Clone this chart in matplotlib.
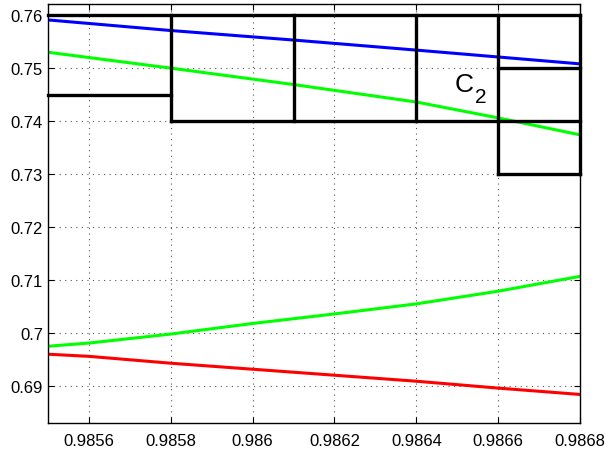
import matplotlib
matplotlib.use("Agg")
import matplotlib.pyplot as plt
import numpy as np

plt.rcParams['font.family'] = ['Liberation Sans', 'DejaVu Sans']

# curve samples
x_blue = [0.9855, 0.9858, 0.9861, 0.9864, 0.9868]
y_blue = [0.7591, 0.7571, 0.7553, 0.7534, 0.7508]

x_green_up = [0.9855, 0.9858, 0.9861, 0.9864, 0.9866, 0.9868]
y_green_up = [0.7530, 0.7500, 0.7469, 0.7436, 0.7406, 0.7374]

x_green_lo = [0.9855, 0.9856, 0.9858, 0.9860, 0.9862, 0.9864, 0.9866, 0.9868]
y_green_lo = [0.6975, 0.6981, 0.6998, 0.7018, 0.7036, 0.7055, 0.7079, 0.7107]

x_red = [0.9855, 0.9856, 0.9858, 0.9864, 0.9866, 0.9868]
y_red = [0.6960, 0.6956, 0.6943, 0.6909, 0.6896, 0.6884]

# black box edges: (x0, x1, y0, y1)
box_segments = [
    (0.9855, 0.9868, 0.760, 0.760),
    (0.9855, 0.9858, 0.745, 0.745),
    (0.9858, 0.9868, 0.740, 0.740),
    (0.9866, 0.9868, 0.750, 0.750),
    (0.9866, 0.9868, 0.730, 0.730),
    (0.9858, 0.9858, 0.740, 0.760),
    (0.9861, 0.9861, 0.740, 0.760),
    (0.9864, 0.9864, 0.740, 0.760),
    (0.9866, 0.9866, 0.730, 0.760),
    (0.9868, 0.9868, 0.730, 0.760),
]

xticks = [0.9856, 0.9858, 0.9860, 0.9862, 0.9864, 0.9866, 0.9868]
xtick_labels = ['0.9856', '0.9858', '0.986', '0.9862', '0.9864', '0.9866', '0.9868']
yticks = [0.69, 0.70, 0.71, 0.72, 0.73, 0.74, 0.75, 0.76]
ytick_labels = ['0.69', '0.7', '0.71', '0.72', '0.73', '0.74', '0.75', '0.76']

fig = plt.figure(figsize=(6.05, 4.56), dpi=100)
ax = fig.add_axes([0.079, 0.070, 0.880, 0.919])

ax.plot(x_blue, y_blue, color='#0000ff', lw=2.2)
ax.plot(x_green_up, y_green_up, color='#00ff00', lw=2.2)
ax.plot(x_green_lo, y_green_lo, color='#00ff00', lw=2.2)
ax.plot(x_red, y_red, color='#ff0000', lw=2.2)

for x0, x1, y0, y1 in box_segments:
    ax.plot([x0, x1], [y0, y1], color='black', lw=2.4, solid_capstyle='projecting',
            clip_on=False)

# C with a MATLAB-style subscript
ax.text(0.986517, 0.7470, 'C', fontsize=19, ha='center', va='center')
ax.text(0.986557, 0.7446, '2', fontsize=15, ha='center', va='center')

ax.set_xlim(0.9855, 0.9868)
ax.set_ylim(0.683, 0.7621)
ax.set_xticks(xticks)
ax.set_xticklabels(xtick_labels)
ax.set_yticks(yticks)
ax.set_yticklabels(ytick_labels)
ax.tick_params(direction='in', top=True, right=True, labelsize=12, length=4)
ax.tick_params(axis='x', pad=7)
ax.grid(True, linestyle=(0, (1, 4)), color='#555555', lw=0.8)
ax.set_axisbelow(True)
for s in ax.spines.values():
    s.set_linewidth(1.0)

fig.savefig('out.png', dpi=100)
